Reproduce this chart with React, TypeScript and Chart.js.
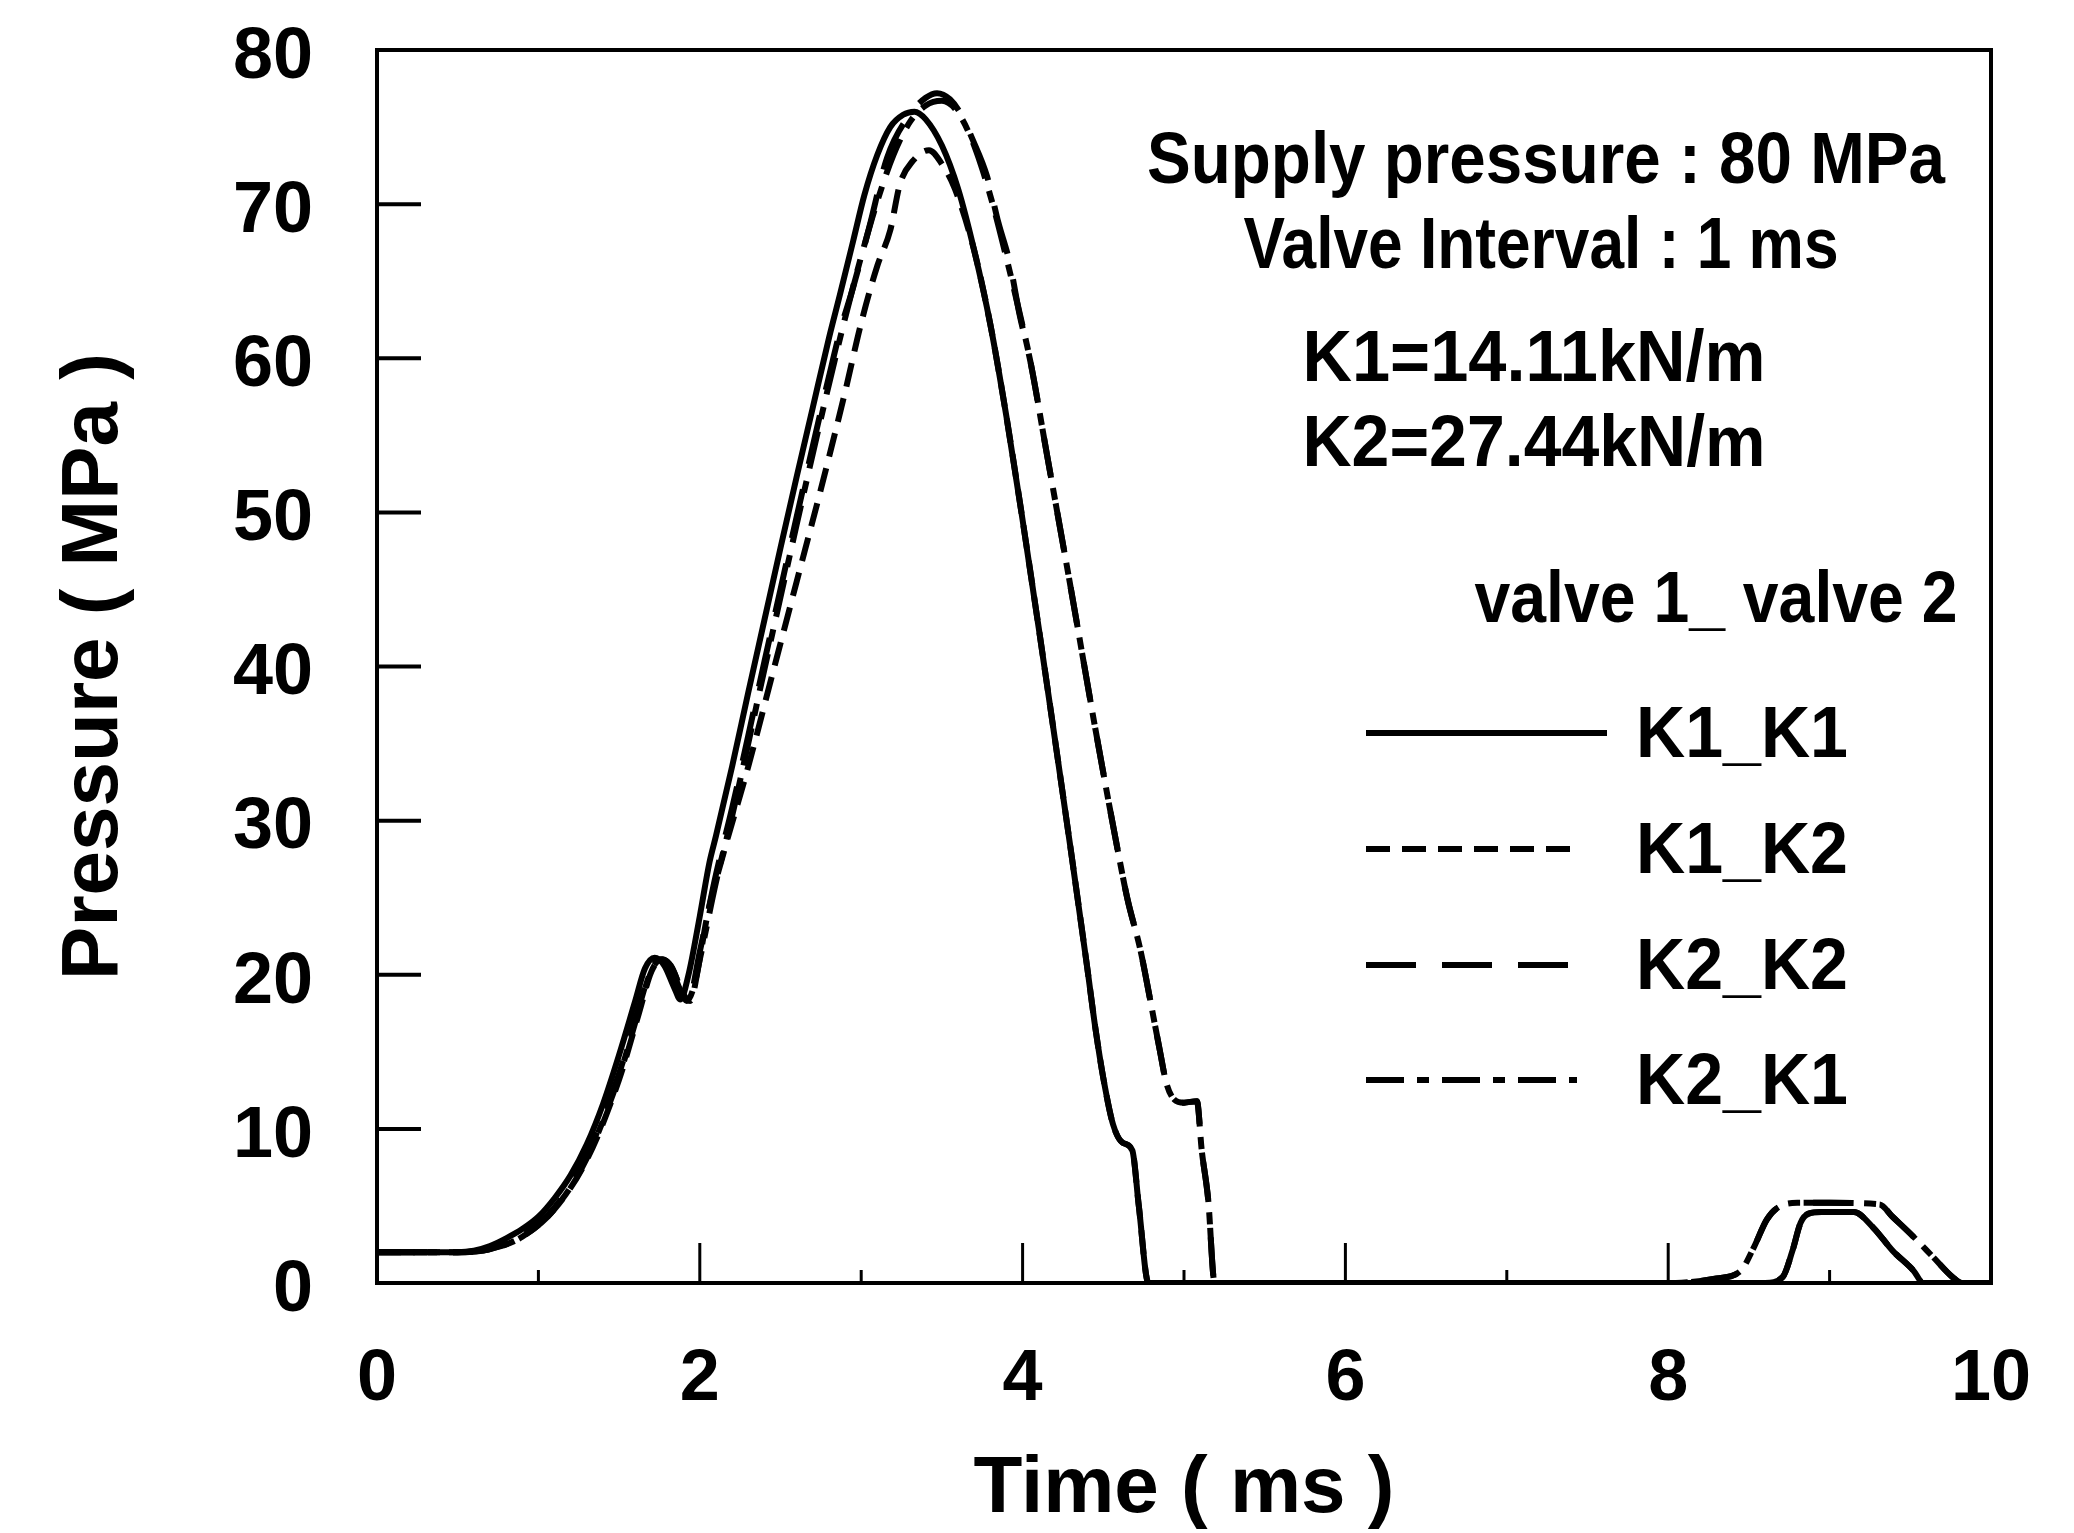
import React, { useEffect, useRef } from "react";
import { Chart, registerables } from "chart.js";

Chart.register(...registerables);

const W = 2074;
const H = 1533;
const FAMILY = '"Liberation Sans", Arial, Helvetica, sans-serif';

// ---- tick labels ----
const xTickValues = [0, 2, 4, 6, 8, 10];
const xMinorTickValues = [1, 3, 5, 7, 9];
const yTickValues = [0, 10, 20, 30, 40, 50, 60, 70, 80];

// ---- texts ----
const xTitle = "Time ( ms )";
const yTitle = "Pressure ( MPa )";
const noteLines = ["Supply pressure : 80 MPa", "Valve Interval : 1 ms", "K1=14.11kN/m", "K2=27.44kN/m"];
const legendHeader = "valve 1_ valve 2";
const seriesNames = ["K1_K1", "K1_K2", "K2_K2", "K2_K1"];

// ---- series: time (ms) / pressure (MPa) ----
const t_K1K1 = [0, 0.5, 0.6, 0.7, 0.8, 0.9, 1.0, 1.1, 1.2, 1.3, 1.4, 1.5, 1.6, 1.66, 1.72, 1.78, 1.84, 1.88, 1.93, 2.0, 2.06, 2.1, 2.2, 2.3, 2.4, 2.5, 2.6, 2.7, 2.8, 2.87, 2.95, 3.02, 3.1, 3.18, 3.26, 3.33, 3.4, 3.5, 3.6, 3.7, 3.8, 3.9, 4.0, 4.1, 4.2, 4.3, 4.4, 4.45, 4.5, 4.56, 4.62, 4.68, 4.72, 4.78, 8.0, 8.6, 8.71, 8.77, 8.82, 8.87, 8.95, 9.15, 9.27, 9.39, 9.52, 9.58, 10];
const p_K1K1 = [2.0, 2.0, 2.1, 2.4, 2.9, 3.5, 4.3, 5.5, 7.0, 9.0, 11.6, 14.8, 18.3, 20.4, 21.1, 20.6, 19.2, 18.4, 20.0, 23.8, 27.3, 29.0, 33.5, 38.3, 43.0, 47.7, 52.3, 56.8, 61.3, 64.2, 67.6, 70.6, 73.2, 75.0, 75.8, 76.0, 75.5, 73.8, 71.0, 67.0, 62.2, 56.2, 49.5, 42.5, 35.3, 28.0, 20.5, 16.6, 13.3, 10.3, 9.1, 8.6, 5.0, 0, 0, 0, 0.4, 2.1, 3.9, 4.5, 4.6, 4.6, 3.6, 2.1, 0.8, 0, 0];

const t_K1K2 = [0, 0.5, 0.7, 0.9, 1.1, 1.3, 1.5, 1.62, 1.7, 1.76, 1.82, 1.87, 1.92, 1.97, 2.05, 2.15, 2.3, 2.45, 2.6, 2.75, 2.9, 3.0, 3.1, 3.18, 3.24, 3.32, 3.42, 3.5, 3.58, 3.7, 3.8, 3.9, 4.0, 4.1, 4.2, 4.3, 4.4, 4.45, 4.5, 4.56, 4.62, 4.68, 4.72, 4.78, 8.0, 8.6, 8.71, 8.77, 8.82, 8.87, 8.95, 9.15, 9.27, 9.39, 9.52, 9.58, 10];
const p_K1K2 = [2.0, 2.0, 2.2, 3.0, 4.8, 8.0, 13.2, 17.4, 20.2, 21.0, 20.6, 19.4, 18.3, 19.5, 24.0, 28.0, 33.5, 39.5, 45.5, 51.5, 57.8, 62.3, 66.0, 68.3, 71.3, 72.8, 73.5, 72.6, 71.0, 67.0, 62.2, 56.2, 49.5, 42.5, 35.3, 28.0, 20.5, 16.6, 13.3, 10.3, 9.1, 8.6, 5.0, 0, 0, 0, 0.4, 2.1, 3.9, 4.5, 4.6, 4.6, 3.6, 2.1, 0.8, 0, 0];

const t_K2K2 = [0, 0.5, 0.7, 0.9, 1.1, 1.3, 1.5, 1.62, 1.7, 1.76, 1.82, 1.88, 1.93, 2.0, 2.1, 2.2, 2.3, 2.4, 2.5, 2.6, 2.7, 2.8, 2.87, 2.95, 3.05, 3.16, 3.3, 3.4, 3.47, 3.55, 3.62, 3.69, 3.78, 3.85, 3.92, 3.98, 4.05, 4.15, 4.3, 4.45, 4.6, 4.65, 4.73, 4.79, 4.85, 4.89, 4.94, 5.0, 5.08, 5.11, 5.15, 5.19, 8.0, 8.3, 8.45, 8.53, 8.61, 8.68, 8.8, 9.0, 9.31, 9.39, 9.52, 9.64, 9.76, 9.82, 10];
const p_K2K2 = [2.0, 2.0, 2.2, 3.1, 4.9, 8.3, 13.6, 17.8, 20.4, 21.0, 20.5, 19.0, 18.4, 21.5, 26.5, 30.8, 35.5, 40.3, 45.0, 49.7, 54.3, 58.8, 61.8, 64.6, 68.5, 73.0, 75.8, 76.9, 77.2, 76.8, 75.8, 74.2, 71.8, 68.8, 66.2, 62.9, 59.7, 53.8, 45.0, 36.0, 27.5, 24.9, 21.6, 18.4, 15.1, 13.0, 11.9, 11.7, 11.8, 8.6, 5.4, 0, 0, 0.3, 0.8, 2.3, 4.1, 4.9, 5.2, 5.2, 5.1, 4.3, 3.0, 1.7, 0.4, 0, 0];

const t_K2K1 = [0, 0.5, 0.7, 0.9, 1.1, 1.3, 1.5, 1.62, 1.7, 1.77, 1.83, 1.89, 1.94, 2.0, 2.1, 2.2, 2.3, 2.4, 2.5, 2.6, 2.7, 2.8, 2.9, 3.0, 3.1, 3.2, 3.3, 3.4, 3.5, 3.58, 3.66, 3.74, 3.82, 3.9, 3.98, 4.05, 4.15, 4.3, 4.45, 4.6, 4.65, 4.73, 4.79, 4.85, 4.89, 4.94, 5.0, 5.08, 5.11, 5.15, 5.19, 8.0, 8.3, 8.45, 8.53, 8.61, 8.68, 8.8, 9.0, 9.31, 9.39, 9.52, 9.64, 9.76, 9.82, 10];
const p_K2K1 = [2.0, 2.0, 2.2, 3.0, 4.8, 8.1, 13.4, 17.6, 20.3, 21.0, 20.4, 18.9, 18.3, 21.0, 26.0, 30.3, 35.0, 39.8, 44.5, 49.2, 53.8, 58.3, 62.6, 66.6, 70.2, 73.2, 75.3, 76.4, 76.7, 76.2, 74.8, 72.6, 69.8, 66.5, 63.0, 59.7, 53.8, 45.0, 36.0, 27.5, 24.9, 21.6, 18.4, 15.1, 13.0, 11.9, 11.7, 11.8, 8.6, 5.4, 0, 0, 0.3, 0.8, 2.3, 4.1, 4.9, 5.2, 5.2, 5.1, 4.3, 3.0, 1.7, 0.4, 0, 0];

const seriesTimes = [t_K1K1, t_K1K2, t_K2K2, t_K2K1];
const seriesValues = [p_K1K1, p_K1K2, p_K2K2, p_K2K1];
const seriesDashes = [[], [24, 12], [50, 26], [38, 13, 12, 13]];

function fittedText(ctx: CanvasRenderingContext2D, text: string, x: number, baseline: number, width: number, size: number, align: "center" | "left") {
  ctx.save();
  ctx.font = `bold ${size}px ${FAMILY}`;
  const natural = ctx.measureText(text).width;
  const sx = width / natural;
  ctx.translate(x, baseline);
  ctx.scale(sx, 1);
  ctx.textAlign = align;
  ctx.textBaseline = "alphabetic";
  ctx.fillStyle = "#000";
  ctx.fillText(text, 0, 0);
  ctx.restore();
}

const decorPlugin = {
  id: "decor",
  afterDraw(chart: any) {
    const { ctx, chartArea } = chart;
    const xs = chart.scales.x;
    const ys = chart.scales.y;
    const { left, right, top, bottom } = chartArea;
    ctx.save();
    ctx.strokeStyle = "#000";
    ctx.lineCap = "butt";
    // frame
    ctx.lineWidth = 4;
    ctx.strokeRect(left, top, right - left, bottom - top);
    // inward y ticks
    ctx.lineWidth = 4;
    yTickValues.forEach((v) => {
      if (v === 0 || v === 80) return;
      const y = ys.getPixelForValue(v);
      ctx.beginPath();
      ctx.moveTo(left, y);
      ctx.lineTo(left + 44, y);
      ctx.stroke();
    });
    // inward x ticks
    ctx.lineWidth = 3;
    xTickValues.forEach((v) => {
      if (v === 0 || v === 10) return;
      const x = xs.getPixelForValue(v);
      ctx.beginPath();
      ctx.moveTo(x, bottom);
      ctx.lineTo(x, bottom - 40);
      ctx.stroke();
    });
    xMinorTickValues.forEach((v) => {
      const x = xs.getPixelForValue(v);
      ctx.beginPath();
      ctx.moveTo(x, bottom);
      ctx.lineTo(x, bottom - 13);
      ctx.stroke();
    });
    ctx.restore();

    // notes
    fittedText(ctx, noteLines[0], 1546, 183, 798, 72, "center");
    fittedText(ctx, noteLines[1], 1541, 268, 595, 72, "center");
    fittedText(ctx, noteLines[2], 1534, 381, 463, 72, "center");
    fittedText(ctx, noteLines[3], 1534, 466, 463, 72, "center");
    fittedText(ctx, legendHeader, 1716, 622, 483, 72, "center");

    // legend
    const rowBase = [757, 873, 989, 1104];
    const lineEnds = [1607, 1577, 1577, 1577];
    chart.data.datasets.forEach((ds: any, i: number) => {
      const yLine = rowBase[i] - 24;
      ctx.save();
      ctx.strokeStyle = "#000";
      ctx.lineWidth = 6;
      ctx.setLineDash(ds.borderDash || []);
      ctx.beginPath();
      ctx.moveTo(1366, yLine);
      ctx.lineTo(lineEnds[i], yLine);
      ctx.stroke();
      ctx.restore();
      fittedText(ctx, ds.label, 1636, rowBase[i], 212, 72, "left");
    });
  },
};

export default function App() {
  const ref = useRef<HTMLCanvasElement | null>(null);

  useEffect(() => {
    if (!ref.current) return;
    const datasets = seriesNames.map((name, i) => ({
      label: name,
      data: seriesTimes[i].map((t, j) => ({ x: t, y: seriesValues[i][j] })),
      borderColor: "#000",
      backgroundColor: "#000",
      borderWidth: 6,
      borderDash: seriesDashes[i],
      pointRadius: 0,
      fill: false,
      cubicInterpolationMode: "monotone" as const,
    }));

    const tickFont = { family: FAMILY, size: 72, weight: "bold" as const };
    const titleFont = { family: FAMILY, size: 80, weight: "bold" as const, lineHeight: 1 };

    const chart = new Chart(ref.current, {
      type: "line",
      data: { datasets },
      options: {
        animation: false,
        responsive: false,
        maintainAspectRatio: false,
        devicePixelRatio: 1,
        layout: { autoPadding: false, padding: { left: 0, right: 83, top: 50, bottom: 0 } },
        plugins: { legend: { display: false }, tooltip: { enabled: false } },
        scales: {
          x: {
            type: "linear",
            min: 0,
            max: 10,
            afterBuildTicks: (s: any) => {
              s.ticks = xTickValues.map((v) => ({ value: v }));
            },
            afterFit: (s: any) => {
              s.height = H - 1283;
              s.paddingLeft = 0;
              s.paddingRight = 0;
              s.paddingTop = 0;
              s.paddingBottom = 0;
            },
            ticks: {
              font: tickFont,
              color: "#000",
              padding: 54,
              maxRotation: 0,
              autoSkip: false,
              callback: (v: any) => String(v),
            },
            grid: { display: false, drawTicks: false },
            border: { display: false },
            title: { display: true, text: xTitle, font: titleFont, color: "#000", padding: { top: 0, bottom: 3 } },
          },
          y: {
            type: "linear",
            min: 0,
            max: 80,
            afterBuildTicks: (s: any) => {
              s.ticks = yTickValues.map((v) => ({ value: v }));
            },
            afterFit: (s: any) => {
              s.width = 377;
              s.paddingLeft = 0;
              s.paddingRight = 0;
              s.paddingTop = 0;
              s.paddingBottom = 0;
            },
            ticks: {
              font: tickFont,
              color: "#000",
              padding: 64,
              labelOffset: 8,
              autoSkip: false,
              callback: (v: any) => String(v),
            },
            grid: { display: false, drawTicks: false },
            border: { display: false },
            title: { display: true, text: yTitle, font: titleFont, color: "#000", padding: { top: 55, bottom: 0 } },
          },
        },
      },
      plugins: [decorPlugin],
    });
    return () => chart.destroy();
  }, []);

  return (
    <div style={{ position: "fixed", left: 0, top: 0, width: W, height: H, background: "#fff" }}>
      <canvas ref={ref} width={W} height={H} style={{ display: "block", width: W, height: H }} />
    </div>
  );
}
